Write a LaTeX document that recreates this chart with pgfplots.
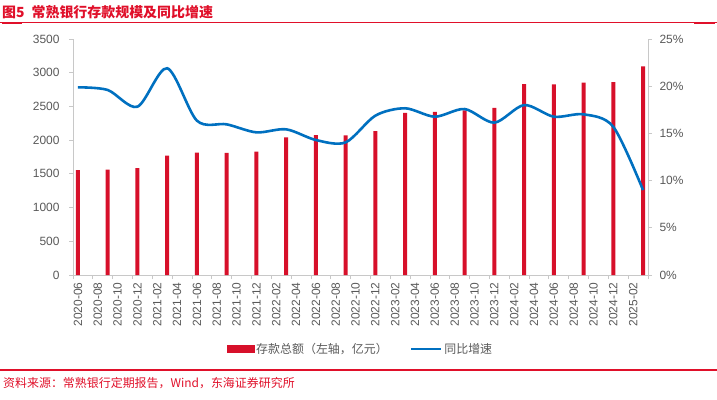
\documentclass[border=0pt]{standalone}
\usepackage{pgfplots}
\pgfplotsset{compat=1.18}
\usepackage{fontspec}
\setmainfont{Liberation Sans}
\newfontfamily\cjk{Noto Sans CJK SC}
\definecolor{barred}{HTML}{D7102A}
\definecolor{titlered}{HTML}{E0102A}
\definecolor{lineblue}{HTML}{0070C0}
\definecolor{txtgray}{HTML}{595959}
\definecolor{axgray}{HTML}{C8C8C8}
\pgfplotstableread{
x dep
0 1557
3 1562
6 1585
9 1770
12 1815
15 1812
18 1828
21 2040
24 2075
27 2070
30 2135
33 2405
36 2420
39 2440
42 2480
45 2832
48 2828
51 2852
54 2862
57 3094
}\deptable
\pgfplotstableread{
x yoy
0 19.88
3 19.60
6 17.83
9 21.90
12 16.35
15 15.96
18 15.11
21 15.43
24 14.30
27 14.05
30 16.88
33 17.66
36 16.77
39 17.58
42 16.14
45 18.00
48 16.77
51 17.02
54 15.70
57 9.00
}\yoytable
\begin{document}
\begin{tikzpicture}[x=1bp,y=1bp]
\useasboundingbox (0,0) rectangle (717,399);
% title
\node[anchor=west, text=titlered, inner sep=0] at (2,387) {\cjk\bfseries\fontsize{14}{14}\selectfont 图5\hspace{7bp}常熟银行存款规模及同比增速};
\fill[titlered] (0,376.2) rectangle (717,377.2);
\fill[titlered] (2,375) rectangle (22,377.2);
\fill[titlered] (694,375) rectangle (715,377.2);
% bottom line and source
\fill[titlered] (0,28.3) rectangle (717,29.6);
\node[anchor=west, text=titlered, inner sep=0] at (3,16) {\cjk\fontsize{12}{12}\selectfont 资料来源：常熟银行定期报告，Wind，东海证券研究所};

\begin{axis}[
  at={(73bp,124bp)}, anchor=south west,
  scale only axis, width=575bp, height=236bp,
  xmin=-0.5, xmax=57.5, ymin=0, ymax=3500,
  axis x line*=bottom, axis y line*=left,
  axis line style={draw=axgray, line width=0.8bp},
  tick align=outside,
  ytick={0,500,...,3500},
  major tick length=4bp,
  tick style={draw=axgray, line width=0.8bp},
  xtick={-0.5,1.5,...,57.5},
  xticklabels={},
  extra x ticks={0,2,...,56},
  extra x tick labels={2020-06,2020-08,2020-10,2020-12,2021-02,2021-04,2021-06,2021-08,2021-10,2021-12,2022-02,2022-04,2022-06,2022-08,2022-10,2022-12,2023-02,2023-04,2023-06,2023-08,2023-10,2023-12,2024-02,2024-04,2024-06,2024-08,2024-10,2024-12,2025-02},
  extra x tick style={major tick length=0pt},
  x tick label style={rotate=90, anchor=east, font=\fontsize{12}{12}\selectfont, text=txtgray},
  y tick label style={font=\fontsize{12}{12}\selectfont, text=txtgray},
  xticklabel shift=4bp,
  yticklabel shift=6bp,
  /pgf/number format/assume math mode=true,
  scaled y ticks=false,
  yticklabel style={/pgf/number format/1000 sep={}},
  clip=false,
]
\addplot[ybar, bar width=4bp, fill=barred, draw=none] table[x=x, y=dep] {\deptable};
\end{axis}

\begin{axis}[
  at={(73bp,124bp)}, anchor=south west,
  scale only axis, width=575bp, height=236bp,
  xmin=-0.5, xmax=57.5, ymin=0, ymax=25,
  axis x line=none, axis y line*=right,
  axis line style={draw=axgray, line width=0.8bp},
  tick align=outside,
  major tick length=4bp,
  tick style={draw=axgray, line width=0.8bp},
  ytick={0,5,...,25},
  yticklabel={\pgfmathprintnumber{\tick}\%},
  y tick label style={font=\fontsize{12}{12}\selectfont, text=txtgray},
  yticklabel shift=4bp,
  /pgf/number format/assume math mode=true,
  legend style={at={(0.5,-0.3136)}, anchor=center, draw=none, fill=none,
    legend columns=2, font=\cjk\fontsize{12}{12}\selectfont, text=txtgray,
    /tikz/every even column/.append style={column sep=20bp},
    inner sep=0pt, cells={anchor=west}},
]
\addlegendimage{legend image code/.code={\fill[barred] (0bp,-3.5bp) rectangle (27bp,3.5bp);}}
\addlegendentry{存款总额（左轴，亿元）}
\addplot[lineblue, line width=2.6bp, smooth, tension=0.5, mark=none,
  legend image code/.code={\draw[lineblue, line width=2.6bp] (0bp,0bp) -- (30bp,0bp);}] table[x=x, y=yoy] {\yoytable};
\addlegendentry{同比增速}
\end{axis}
\end{tikzpicture}
\end{document}
